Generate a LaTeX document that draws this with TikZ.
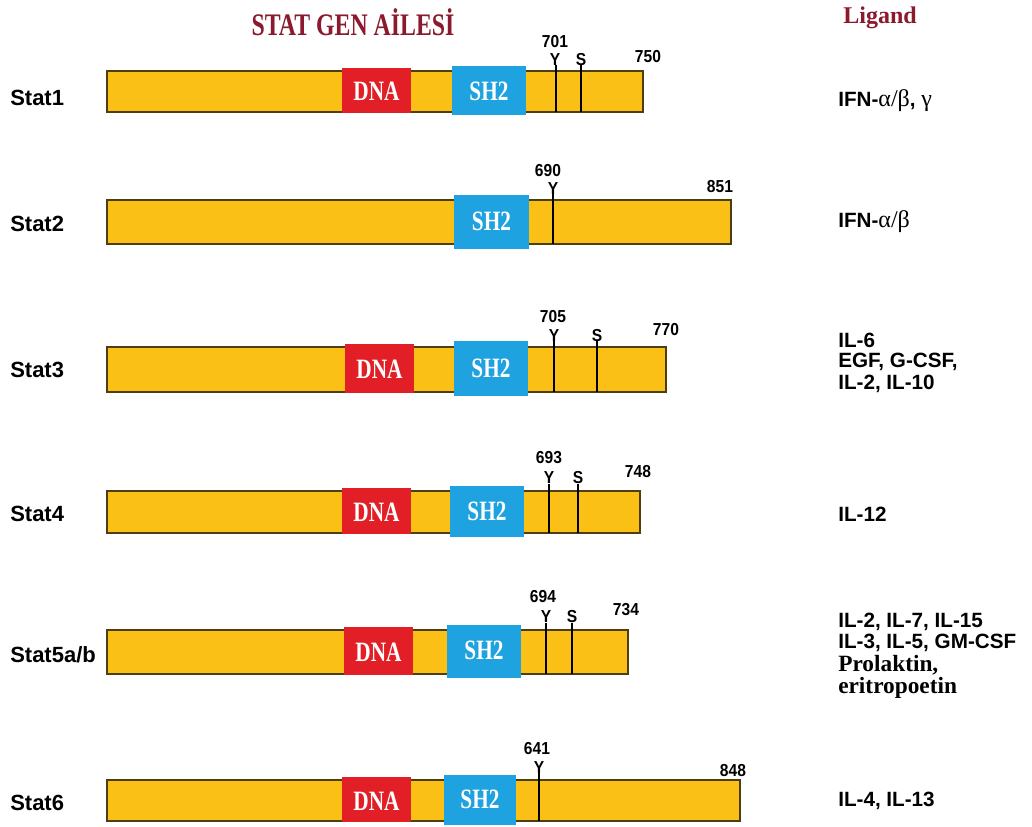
\documentclass[tikz,border=0pt]{standalone}
\usepackage{fontspec}
\setmainfont{Liberation Serif}
\setsansfont{Liberation Sans}
\newfontfamily\condserif[FakeStretch=0.76]{Liberation Serif}
\newfontfamily\narrowsans[FakeStretch=0.9]{Liberation Sans}
\definecolor{barfill}{HTML}{FAC015}
\definecolor{bardraw}{HTML}{4D3D12}
\definecolor{dnared}{HTML}{E21F26}
\definecolor{shblue}{HTML}{1FA2E0}
\definecolor{titlered}{HTML}{8B1A2E}
\begin{document}
\begin{tikzpicture}[x=0.75pt,y=-0.75pt,
 barbox/.style={draw=bardraw, fill=barfill, line width=1.1pt},
 dnabox/.style={fill=dnared},
 shbox/.style={fill=shblue},
 site/.style={line width=2pt, black},
 domtext/.style={text=white, inner sep=0pt, font=\condserif\bfseries\fontsize{21}{21}\selectfont},
 numtext/.style={inner sep=0pt, font=\narrowsans\bfseries\fontsize{13}{13}\selectfont},
 rowlabel/.style={anchor=west, inner sep=0pt, font=\sffamily\bfseries\fontsize{16.5}{16.5}\selectfont},
 ligtext/.style={anchor=west, inner sep=0pt, font=\sffamily\bfseries\fontsize{15.5}{15.5}\selectfont},
 greek/.style={},
 ligserif/.style={anchor=west, inner sep=0pt, font=\rmfamily\bfseries\fontsize{17.5}{17.5}\selectfont},
 headtext/.style={text=titlered, inner sep=0pt},
]
\useasboundingbox (0,0) rectangle (1032,827);
\fill[white] (0,0) rectangle (1032,827);

% headings
\node[headtext, font=\condserif\bfseries\fontsize{23.5}{23.5}\selectfont] (title) at (353,22) {STAT GEN AİLESİ};
\node[headtext, font=\rmfamily\bfseries\fontsize{18}{18}\selectfont] (ligand) at (880,18) {Ligand};

% ---------- Stat1
\node[rowlabel] (s1) at (10,98) {Stat1};
\draw[barbox] (107,71) rectangle (643,112);
\fill[dnabox] (342,68) rectangle (411,113);
\fill[shbox] (452,66) rectangle (526,115);
\node[domtext] (dna1) at (376.5,91) {DNA};
\node[domtext] (sh1) at (489,91) {SH2};
\draw[site] (556,65) -- (556,112);
\draw[site] (581,65) -- (581,112);
\node[numtext] (p1) at (555,42) {701};
\node[numtext] (y1) at (555,60) {Y};
\node[numtext] (ss1) at (581,60) {S};
\node[numtext] (e1) at (648,57) {750};
\node[ligtext] (l1) at (838,101) {IFN-{\rmfamily\mdseries\fontsize{18}{18}\selectfont α/β}, {\rmfamily\mdseries\fontsize{18}{18}\selectfont γ}};

% ---------- Stat2
\node[rowlabel] (s2) at (10,224) {Stat2};
\draw[barbox] (107,200) rectangle (731,244);
\fill[shbox] (454,195) rectangle (529,249);
\node[domtext] (sh2) at (491.5,221) {SH2};
\draw[site] (553,194) -- (553,244);
\node[numtext] (p2) at (548,171) {690};
\node[numtext] (y2) at (553,189) {Y};
\node[numtext] (e2) at (720,187) {851};
\node[ligtext] (l2) at (838,222) {IFN-{\rmfamily\mdseries\fontsize{18}{18}\selectfont α/β}};

% ---------- Stat3
\node[rowlabel] (s3) at (10,370) {Stat3};
\draw[barbox] (107,347) rectangle (666,392);
\fill[dnabox] (345,344) rectangle (414,393);
\fill[shbox] (454,341) rectangle (528,396);
\node[domtext] (dna3) at (379.5,369) {DNA};
\node[domtext] (sh3) at (491,368) {SH2};
\draw[site] (554,341) -- (554,392);
\draw[site] (597,341) -- (597,392);
\node[numtext] (p3) at (553,317) {705};
\node[numtext] (y3) at (554,336) {Y};
\node[numtext] (ss3) at (597,336) {S};
\node[numtext] (e3) at (666,330) {770};
\node[ligtext] (l3a) at (838,340) {IL-6};
\node[ligtext] (l3b) at (838,362) {EGF, G-CSF,};
\node[ligtext] (l3c) at (838,384) {IL-2, IL-10};

% ---------- Stat4
\node[rowlabel] (s4) at (10,514) {Stat4};
\draw[barbox] (107,491) rectangle (640,533);
\fill[dnabox] (342,488) rectangle (411,534);
\fill[shbox] (450,486) rectangle (524,537);
\node[domtext] (dna4) at (376.5,512) {DNA};
\node[domtext] (sh4) at (487,511) {SH2};
\draw[site] (549,484) -- (549,533);
\draw[site] (578,484) -- (578,533);
\node[numtext] (p4) at (549,458) {693};
\node[numtext] (y4) at (549,478) {Y};
\node[numtext] (ss4) at (578,478) {S};
\node[numtext] (e4) at (638,472) {748};
\node[ligtext] (l4) at (838,514) {IL-12};

% ---------- Stat5a/b
\node[rowlabel] (s5) at (10,655) {Stat5a/b};
\draw[barbox] (107,630) rectangle (628,674);
\fill[dnabox] (344,627) rectangle (413,675);
\fill[shbox] (447,625) rectangle (521,678);
\node[domtext] (dna5) at (378.5,652) {DNA};
\node[domtext] (sh5) at (484,650) {SH2};
\draw[site] (546,623) -- (546,674);
\draw[site] (572,623) -- (572,674);
\node[numtext] (p5) at (543,597) {694};
\node[numtext] (y5) at (546,617) {Y};
\node[numtext] (ss5) at (572,617) {S};
\node[numtext] (e5) at (626,610) {734};
\node[ligtext] (l5a) at (838,622) {IL-2, IL-7, IL-15};
\node[ligtext] (l5b) at (838,643) {IL-3, IL-5, GM-CSF};
\node[ligserif] (l5c) at (838,665) {Prolaktin,};
\node[ligserif] (l5d) at (838,688) {eritropoetin};

% ---------- Stat6
\node[rowlabel] (s6) at (10,803) {Stat6};
\draw[barbox] (107,780) rectangle (740,821);
\fill[dnabox] (342,777) rectangle (411,822);
\fill[shbox] (444,775) rectangle (516,825);
\node[domtext] (dna6) at (376.5,801) {DNA};
\node[domtext] (sh6) at (480,799) {SH2};
\draw[site] (539,773) -- (539,821);
\node[numtext] (p6) at (537,749) {641};
\node[numtext] (y6) at (539,768) {Y};
\node[numtext] (e6) at (733,771) {848};
\node[ligtext] (l6) at (838,801) {IL-4, IL-13};
\end{tikzpicture}
\end{document}
